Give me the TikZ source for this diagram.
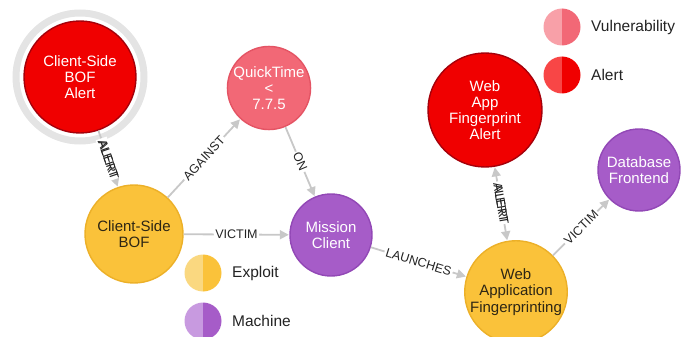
\documentclass[tikz,border=0pt]{standalone}
\usepackage{fontspec}
\setmainfont{Liberation Sans}
\usetikzlibrary{arrows.meta}

\definecolor{alertfill}{RGB}{240,0,0}
\definecolor{alertline}{RGB}{165,0,10}
\definecolor{alertlight}{RGB}{248,70,70}
\definecolor{vulnfill}{RGB}{242,104,118}
\definecolor{vulnline}{RGB}{228,84,100}
\definecolor{vulnlight}{RGB}{248,160,168}
\definecolor{exploitfill}{RGB}{250,194,58}
\definecolor{exploitline}{RGB}{236,176,40}
\definecolor{exploitlight}{RGB}{250,216,128}
\definecolor{machinefill}{RGB}{166,92,200}
\definecolor{machineline}{RGB}{146,72,182}
\definecolor{machinelight}{RGB}{200,154,224}
\definecolor{edgegray}{RGB}{200,200,200}
\definecolor{halogray}{RGB}{228,228,228}
\definecolor{labelgray}{RGB}{35,35,35}
\definecolor{darktext}{RGB}{45,38,20}

\tikzset{
  gnode/.style={circle, draw, line width=1.4pt, inner sep=0pt, align=center,
    font=\fontsize{15}{16.2}\selectfont},
  alertnode/.style={gnode, fill=alertfill, draw=alertline, text=white},
  vulnnode/.style={gnode, fill=vulnfill, draw=vulnline, text=white},
  exploitnode/.style={gnode, fill=exploitfill, draw=exploitline, text=darktext},
  machinenode/.style={gnode, fill=machinefill, draw=machineline, text=white},
  rel/.style={draw=edgegray, line width=1.8pt,
    -{Triangle[length=9pt,width=9pt]}, shorten >=0.5pt},
  birel/.style={draw=edgegray, line width=1.8pt,
    {Triangle[length=9pt,width=9pt]}-{Triangle[length=9pt,width=9pt]},
    shorten >=0.5pt, shorten <=0.5pt},
  rellabel/.style={fill=white, text=labelgray, inner sep=1.5pt, sloped,
    font=\fontsize{12.5}{12.5}\selectfont},
  ghostlabel/.style={rellabel, fill=none},
  legendtext/.style={anchor=west, text=labelgray, inner sep=0pt,
    font=\fontsize{15.5}{15.5}\selectfont},
}

\begin{document}
\begin{tikzpicture}[x=1pt,y=-1pt]
\useasboundingbox (0,0) rectangle (681,337);

% halo around the selected alert
\draw[halogray, line width=7pt] (80,77) circle (64);

% graph nodes
\node[alertnode, minimum size=112pt] (cbofalert) at (80,77) {Client-Side\\BOF\\Alert};
\node[vulnnode, minimum size=82pt] (quicktime) at (269,88) {QuickTime\\<\\7.7.5};
\node[exploitnode, minimum size=98pt] (cbof) at (134,234) {Client-Side\\BOF};
\node[machinenode, minimum size=82pt] (mission) at (331,235) {Mission\\Client};
\node[alertnode, minimum size=114pt] (wafalert) at (485,110) {Web\\App\\Fingerprint\\Alert};
\node[machinenode, minimum size=82pt] (dbfront) at (639,170) {Database\\Frontend};
\node[exploitnode, minimum size=98pt] (waf) at (516,292) {Web\\Application\\Fingerprinting};

% relationships
\draw[rel] (cbofalert) -- (cbof)
  node[rellabel, pos=0.5] (lalert1) {ALERT}
  node[ghostlabel, pos=0.53] (lalert2) {ALERT};
\draw[rel] (cbof) -- (quicktime) node[rellabel, midway] (lagainst) {AGAINST};
\draw[rel] (quicktime) -- (mission) node[rellabel, midway] (lon) {ON};
\draw[rel] (cbof) -- (mission) node[rellabel, midway] (lvictim1) {VICTIM};
\draw[rel] (mission) -- (waf) node[rellabel, midway] (llaunch) {LAUNCHES};
\draw[birel] (wafalert) -- (waf)
  node[rellabel, pos=0.485] (lalert3) {ALERT}
  node[ghostlabel, pos=0.515] (lalert4) {ALERT};
\draw[rel] (waf) -- (dbfront) node[rellabel, midway] (lvictim2) {VICTIM};

% legend: two-tone discs with their captions
\foreach \cx/\cy/\lc/\rc/\nm/\txt in {
    562/27/vulnlight/vulnfill/legvuln/Vulnerability,
    562/75/alertlight/alertfill/legalert/Alert,
    203/273/exploitlight/exploitfill/legexploit/Exploit,
    203/321/machinelight/machinefill/legmachine/Machine}{
  \fill[\lc] (\cx,\cy+18.5) arc[start angle=90, end angle=270, radius=18.5] -- cycle;
  \fill[\rc] (\cx,\cy+18.5) arc[start angle=90, end angle=-90, radius=18.5] -- cycle;
  \node[legendtext] (\nm) at (\cx+29,\cy) {\txt};
}
\end{tikzpicture}
\end{document}
